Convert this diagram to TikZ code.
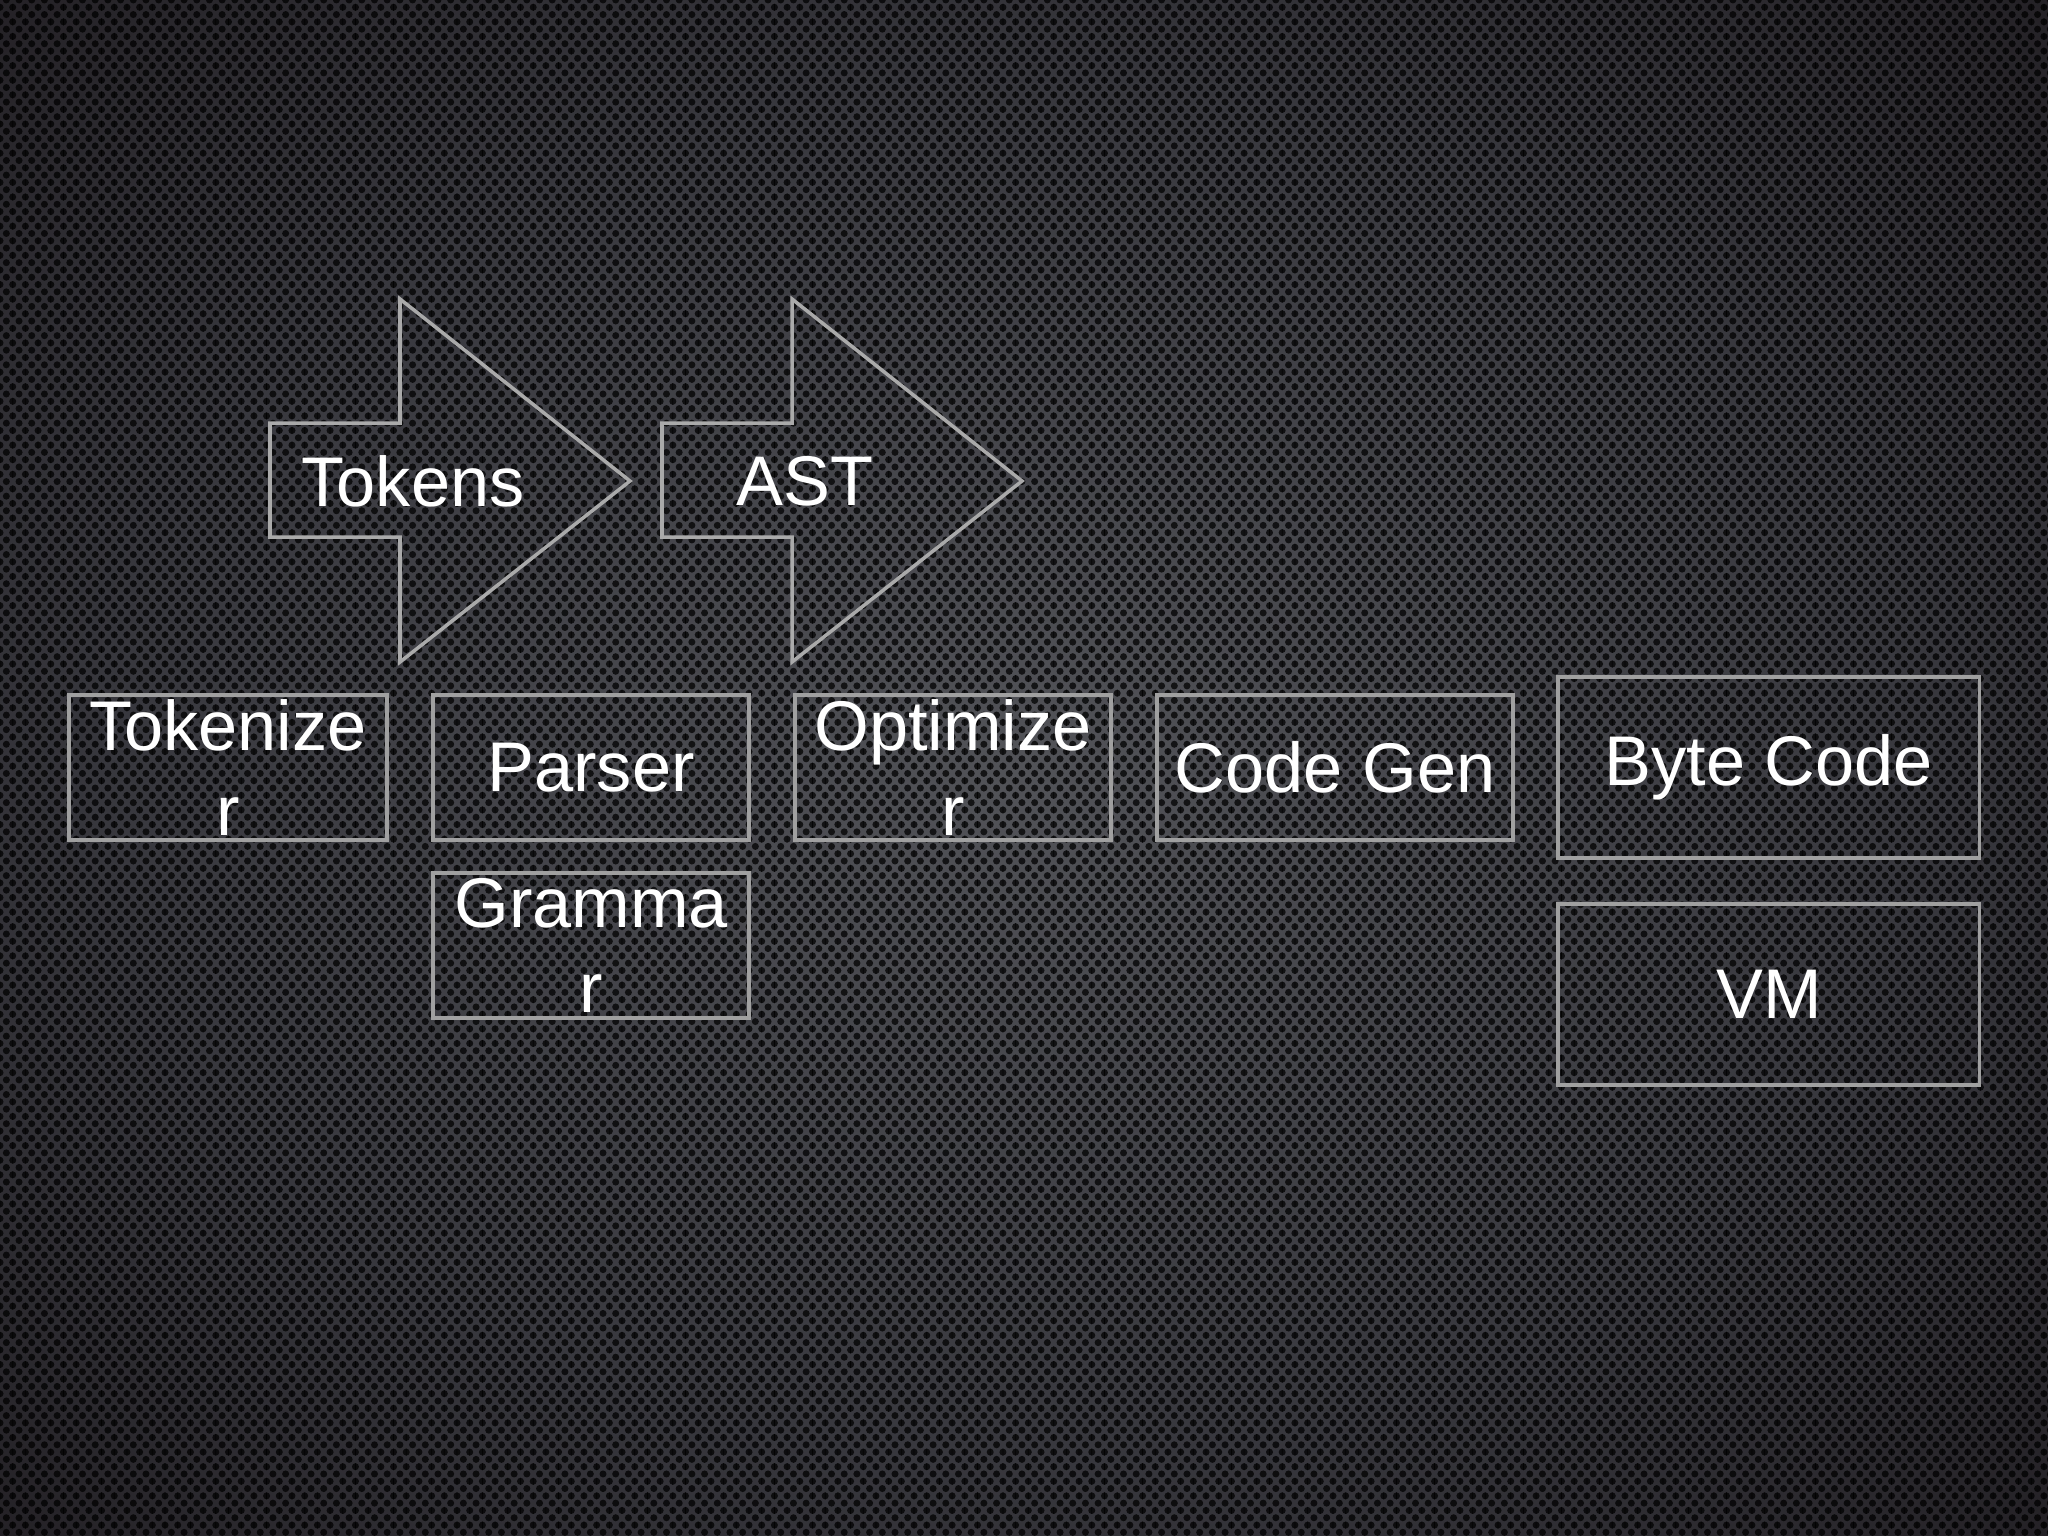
\documentclass[tikz,border=0pt]{standalone}
\usepackage{fontspec}
\setmainfont{Liberation Sans}
\usetikzlibrary{positioning,patterns}

\definecolor{centro}{RGB}{82,83,88}
\definecolor{medio}{RGB}{56,56,62}
\definecolor{bordo}{RGB}{26,22,26}
\definecolor{angolo}{RGB}{6,3,5}
\definecolor{linea}{RGB}{160,160,160}

% lamiera: sfumatura radiale + fori esagonali
\pgfdeclareradialshading{lamiera}{\pgfpoint{0bp}{0bp}}{%
  color(0bp)=(centro); color(22bp)=(medio); color(42bp)=(bordo); color(72bp)=(angolo)}
\pgfdeclarepatternformonly{fori}{\pgfpoint{-0.1pt}{-0.1pt}}{\pgfpoint{3.71pt}{4.25pt}}{\pgfpoint{3.61pt}{4.15pt}}{%
  \pgfpathcircle{\pgfpoint{1.805pt}{1.04pt}}{1pt}
  \pgfpathcircle{\pgfpoint{0pt}{3.11pt}}{1pt}
  \pgfpathcircle{\pgfpoint{3.61pt}{3.11pt}}{1pt}
  \pgfusepath{fill}}

\tikzset{
  blocco/.style={draw=linea, line width=1.1pt, text=white, align=center,
    inner sep=0pt, minimum width=3.16cm, minimum height=1.45cm,
    font=\fontsize{20pt}{24pt}\selectfont},
  freccia/.style={draw=linea!90!white, line width=1pt},
  etichetta/.style={text=white, inner sep=0pt, font=\fontsize{20pt}{24pt}\selectfont}
}

\begin{document}
\begin{tikzpicture}[x=0.01cm, y=-0.01cm]
        % sfondo
        \shade[shading=lamiera] (0,0) rectangle (2048,1536);
        \fill[pattern=fori, pattern color=black, opacity=0.75] (0,0) rectangle (2048,1536);
        \useasboundingbox (0,0) rectangle (2048,1536);

        % frecce grandi: Tokens e AST (\dx = spostamento orizzontale)
        \foreach \dx/\testo/\nome in {0/Tokens/tok, 392/AST/ast}{
          \draw[freccia] (270+\dx,423) -- (400+\dx,423) -- (400+\dx,299)
            -- (630+\dx,481) -- (400+\dx,662) -- (400+\dx,537)
            -- (270+\dx,537) -- cycle;
          \node[etichetta] (\nome) at (413+\dx,481) {\testo};
        }

        % blocchi della pipeline
        \node[blocco, minimum width=3.18cm] (tokenizer) at (228,767.5) {Tokenize\\r};
        \node[blocco, right=0.42cm of tokenizer] (parser) {Parser};
        \node[blocco, below=0.29cm of parser] (grammar) {Gramma\\r};
        \node[blocco, right=0.42cm of parser] (optimizer) {Optimize\\r};
        \node[blocco, minimum width=3.56cm, right=0.42cm of optimizer] (codegen) {Code Gen};
        \node[blocco, minimum width=4.21cm, minimum height=1.81cm, right=0.41cm of codegen] (bytecode) {Byte Code};
        \node[blocco, minimum width=4.21cm, minimum height=1.81cm, below=0.42cm of bytecode] (vm) {VM};
\end{tikzpicture}
\end{document}
